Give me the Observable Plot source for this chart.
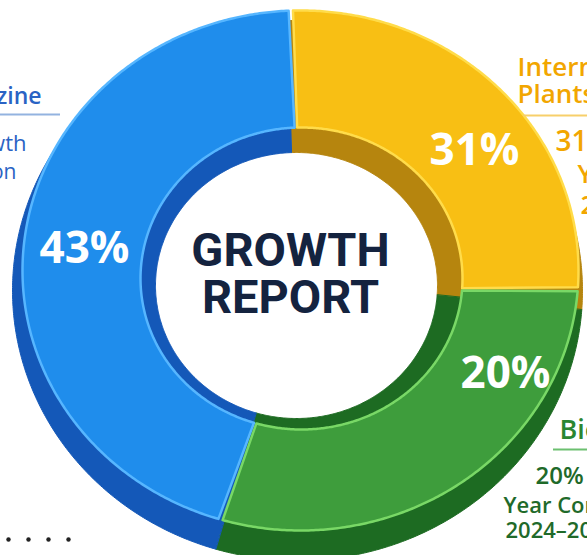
<!DOCTYPE html>
<html><head><meta charset="utf-8">
<script src="https://cdn.jsdelivr.net/npm/d3@7"></script>
<script src="https://cdn.jsdelivr.net/npm/@observablehq/plot@0.6"></script>
<style>html,body{margin:0;padding:0;background:#fff;overflow:hidden;width:587px;height:555px}</style>
</head><body><div id="chart"></div>
<script>
// ---- data ----
const categories = ["Internal Plants", "Biomass", "Magazine"];
const arcShares = [26.7, 28.5, 44.8];          // share of the ring as drawn (%)
const percentLabels = ["31%", "20%", "43%"];    // printed values
const centerTitle = ["GROWTH", "REPORT"];
const sideTexts = [
  ["Internal", "Plants", "31% Growth", "Year Comparison", "2024–2025"],
  ["Biomass", "20% Growth", "Year Comparison", "2024–2025"],
  ["Magazine", "43% Growth", "Comparison"]
];
const bulletDots = [0, 1, 2, 3];

// ---- styles ----
const faceColors = ["#f8bf14", "#3e9d3c", "#1f8dec"];
const wallColors = ["#b6850e", "#1d6b22", "#1458b8"];
const rimColors  = ["#ffdc4a", "#79d866", "#56b6ff"];
const textColors = ["#f2a600", "#2b8631", "#2a63c4"];
const subColors  = ["#f2a600", "#1f6a2a", "#2a63c4"];
const ruleColors = ["#f7cf6a", "#6cc070", "#93b3e0"];

// ---- geometry (layout) ----
const START = -2;
const faceOuter = {cx: 300, cy: 270, rx: 278, ry: 260};
const faceInner = {cx: 301, cy: 278, rx: 161, ry: 151};
const wallOuter = {cx: 297, cy: 290, rx: 285, ry: 270};
const wallInner = {cx: 296, cy: 285, rx: 141, ry: 133};
const PAD = 0.45;

const total = d3.sum(arcShares);
let acc = START;
const segs = categories.map((c, i) => {
  const a0 = acc, a1 = acc + arcShares[i] / total * 360;
  acc = a1;
  return {c, i, a0, a1};
});

function ring(a0, a1, outer, inner, key) {
  const pts = [];
  const n = Math.max(2, Math.ceil((a1 - a0) / 0.5));
  for (let k = 0; k <= n; k++) {
    const t = (a0 + (a1 - a0) * k / n) * Math.PI / 180;
    pts.push({key, x: outer.cx + outer.rx * Math.sin(t), y: outer.cy - outer.ry * Math.cos(t)});
  }
  for (let k = n; k >= 0; k--) {
    const t = (a0 + (a1 - a0) * k / n) * Math.PI / 180;
    pts.push({key, x: inner.cx + inner.rx * Math.sin(t), y: inner.cy - inner.ry * Math.cos(t)});
  }
  return pts;
}

const marks = [];
segs.forEach(s => marks.push(Plot.line(ring(s.a0, s.a1, wallOuter, wallInner, s.c),
  {x: "x", y: "y", curve: "linear-closed", fill: wallColors[s.i], stroke: wallColors[s.i], strokeWidth: 1})));
segs.forEach(s => marks.push(Plot.line(ring(s.a0 + PAD, s.a1 - PAD, faceOuter, faceInner, s.c),
  {x: "x", y: "y", curve: "linear-closed", fill: faceColors[s.i], stroke: rimColors[s.i], strokeWidth: 2.5, strokeLinejoin: "round"})));

// percentage labels
const pctPos = [[474, 164], [505, 387], [84, 262]];
marks.push(Plot.text(percentLabels.map((t, i) => ({t, x: pctPos[i][0], y: pctPos[i][1]})),
  {x: "x", y: "y", text: "t", fill: "white", fontSize: 44, fontWeight: 700, fontFamily: "Open Sans", lineAnchor: "bottom", textAnchor: "middle"}));

// center title
const titlePos = [[290, 265], [290, 312]];
marks.push(Plot.text(centerTitle.map((t, i) => ({t, x: titlePos[i][0], y: titlePos[i][1]})),
  {x: "x", y: "y", text: "t", fill: "#14233f", fontSize: 47, fontWeight: 700, fontFamily: "Roboto", lineAnchor: "bottom", textAnchor: "middle"}));

// side labels: [x, baseline, fontSize, weight, isSub]
const sideLayout = [
  {anchor: "start", lines: [[517, 75, 26, 600, 0], [517, 102, 26, 600, 0], [555, 150, 28, 600, 1], [577, 182, 26, 600, 1], [580, 213, 26, 600, 1]], rule: [523, 640, 115]},
  {anchor: "start", lines: [[559, 438, 27, 600, 0], [535, 483, 24, 600, 1], [503, 512, 22, 600, 1], [505, 537, 22, 600, 1]], rule: [553, 640, 449]},
  {anchor: "end", lines: [[41, 103, 23, 600, 0], [26, 150, 22, 500, 1], [16, 178, 21, 500, 1]], rule: [-20, 60, 114]}
];
sideTexts.forEach((lines, i) => {
  const L = sideLayout[i];
  const rows = lines.map((t, j) => ({t, x: L.lines[j][0], y: L.lines[j][1], fs: L.lines[j][2], fw: L.lines[j][3], sub: L.lines[j][4]}));
  rows.forEach(r => {
    marks.push(Plot.text([r], {x: "x", y: "y", text: "t", fontSize: r.fs, fontWeight: r.fw, fontFamily: "Open Sans",
      fill: r.sub ? subColors[i] : textColors[i], textAnchor: L.anchor, lineAnchor: "bottom"}));
  });
  marks.push(Plot.ruleY([L.rule[2]], {x1: L.rule[0], x2: L.rule[1], stroke: ruleColors[i], strokeWidth: 2}));
});

marks.push(Plot.dot(bulletDots, {x: d => 8 + d * 20, y: () => 539, r: 2.2, fill: "#222", stroke: null}));

const chart = Plot.plot({
  width: 587, height: 555, margin: 0,
  x: {domain: [0, 587], range: [0, 587], axis: null},
  y: {domain: [0, 555], range: [0, 555], axis: null},
  style: {background: "white"},
  marks
});
document.getElementById("chart").append(chart);
</script>
</body></html>
